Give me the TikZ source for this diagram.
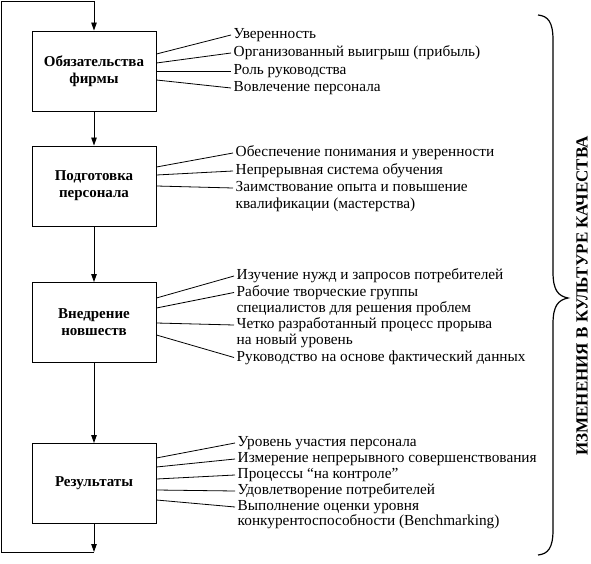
\documentclass[tikz,border=0pt]{standalone}
\usepackage{fontspec}
\setmainfont{Liberation Serif}
\usetikzlibrary{arrows.meta}
\begin{document}
\begin{tikzpicture}[x=1pt,y=-1pt,
  box/.style={draw, line width=0.9pt, minimum width=124pt, minimum height=80pt, inner sep=0pt, align=center, font=\fontsize{15}{17}\selectfont\bfseries},
  itm/.style={anchor=west, inner sep=2.5pt, font=\fontsize{15.3}{17}\selectfont, text height=7pt, text depth=0pt},
  ln/.style={line width=0.8pt},
  arr/.style={line width=0.9pt, -{Triangle[length=8pt,width=5.5pt]}},
  brace/.style={line width=1.2pt},
  vlabel/.style={rotate=90, inner sep=0pt, font=\fontsize{17}{17}\selectfont\bfseries}
]
\useasboundingbox (0,0) rectangle (591,564);

% boxes
\node[box] (b1) at (94,71) {Обязательства\\фирмы};
\node[box] (b2) at (94,186) {Подготовка\\персонала};
\node[box] (b3) at (94,322.5) {Внедрение\\новшеств};
\node[box] (b4) at (94,483.5) {Результаты};

% loop coordinates
\coordinate (tl) at (1.5,1);
\coordinate (tr) at (94,1);
\coordinate (bl) at (1.5,552);
\coordinate (br) at (94,552);

\draw[arr] (b1) -- (b2);
\draw[arr] (b2) -- (b3);
\draw[arr] (b3) -- (b4);
\draw[arr] (b4) -- (br);
\draw[arr] (br) -- (bl) -- (tl) -- (tr) -- (b1);

% items of box 1
\node[itm] (i11) at (231,35) {Уверенность};
\node[itm] (i12) at (231,53) {Организованный выигрыш (прибыль)};
\node[itm] (i13) at (231,71) {Роль руководства};
\node[itm] (i14) at (231,88) {Вовлечение персонала};
\draw[ln] ([yshift=17pt]b1.east) -- (i11.west);
\draw[ln] ([yshift=8pt]b1.east) -- (i12.west);
\draw[ln] ([yshift=0pt]b1.east) -- (i13.west);
\draw[ln] ([yshift=-9pt]b1.east) -- (i14.west);

% items of box 2
\node[itm] (i21) at (233,153) {Обеспечение понимания и уверенности};
\node[itm] (i22) at (233,171) {Непрерывная система обучения};
\node[itm] (i23) at (233,188) {Заимствование опыта и повышение};
\node[itm] (i23b) at (233,205) {квалификации (мастерства)};
\draw[ln] ([yshift=19pt]b2.east) -- (i21.west);
\draw[ln] ([yshift=11pt]b2.east) -- (i22.west);
\draw[ln] ([yshift=0pt]b2.east) -- (i23.west);

% items of box 3
\node[itm] (i31) at (234,276) {Изучение нужд и запросов потребителей};
\node[itm] (i32) at (234,292.5) {Рабочие творческие группы};
\node[itm] (i32b) at (234,308.5) {специалистов для решения проблем};
\node[itm] (i33) at (234,325) {Четко разработанный процесс прорыва};
\node[itm] (i33b) at (234,341) {на новый уровень};
\node[itm] (i34) at (234,357.5) {Руководство на основе фактический данных};
\draw[ln] ([yshift=24.5pt]b3.east) -- (i31.west);
\draw[ln] ([yshift=14.5pt]b3.east) -- (i32.west);
\draw[ln] ([yshift=-0.5pt]b3.east) -- (i33.west);
\draw[ln] ([yshift=-12.5pt]b3.east) -- (i34.west);

% items of box 4
\node[itm] (i41) at (235,443) {Уровень участия персонала};
\node[itm] (i42) at (235,459) {Измерение непрерывного совершенствования};
\node[itm] (i43) at (235,475) {Процессы “на контроле”};
\node[itm] (i44) at (235,491) {Удовлетворение потребителей};
\node[itm] (i45) at (235,507) {Выполнение оценки уровня};
\node[itm] (i45b) at (235,522) {конкурентоспособности (Benchmarking)};
\draw[ln] ([yshift=25.5pt]b4.east) -- (i41.west);
\draw[ln] ([yshift=16.5pt]b4.east) -- (i42.west);
\draw[ln] ([yshift=4.5pt]b4.east) -- (i43.west);
\draw[ln] ([yshift=-6.5pt]b4.east) -- (i44.west);
\draw[ln] ([yshift=-16.5pt]b4.east) -- (i45.west);

% brace
\draw[brace] (538,15) .. controls (548,16) and (553,22) .. (553,40) -- (553,272)
  .. controls (553,290) and (558,296) .. (568,298)
  .. controls (558,300) and (553,306) .. (553,324) -- (553,530)
  .. controls (553,548) and (548,554) .. (538,555);

\node[vlabel] (lab) at (582,296) {ИЗМЕНЕНИЯ В КУЛЬТУРЕ КАЧЕСТВА};
\end{tikzpicture}
\end{document}
